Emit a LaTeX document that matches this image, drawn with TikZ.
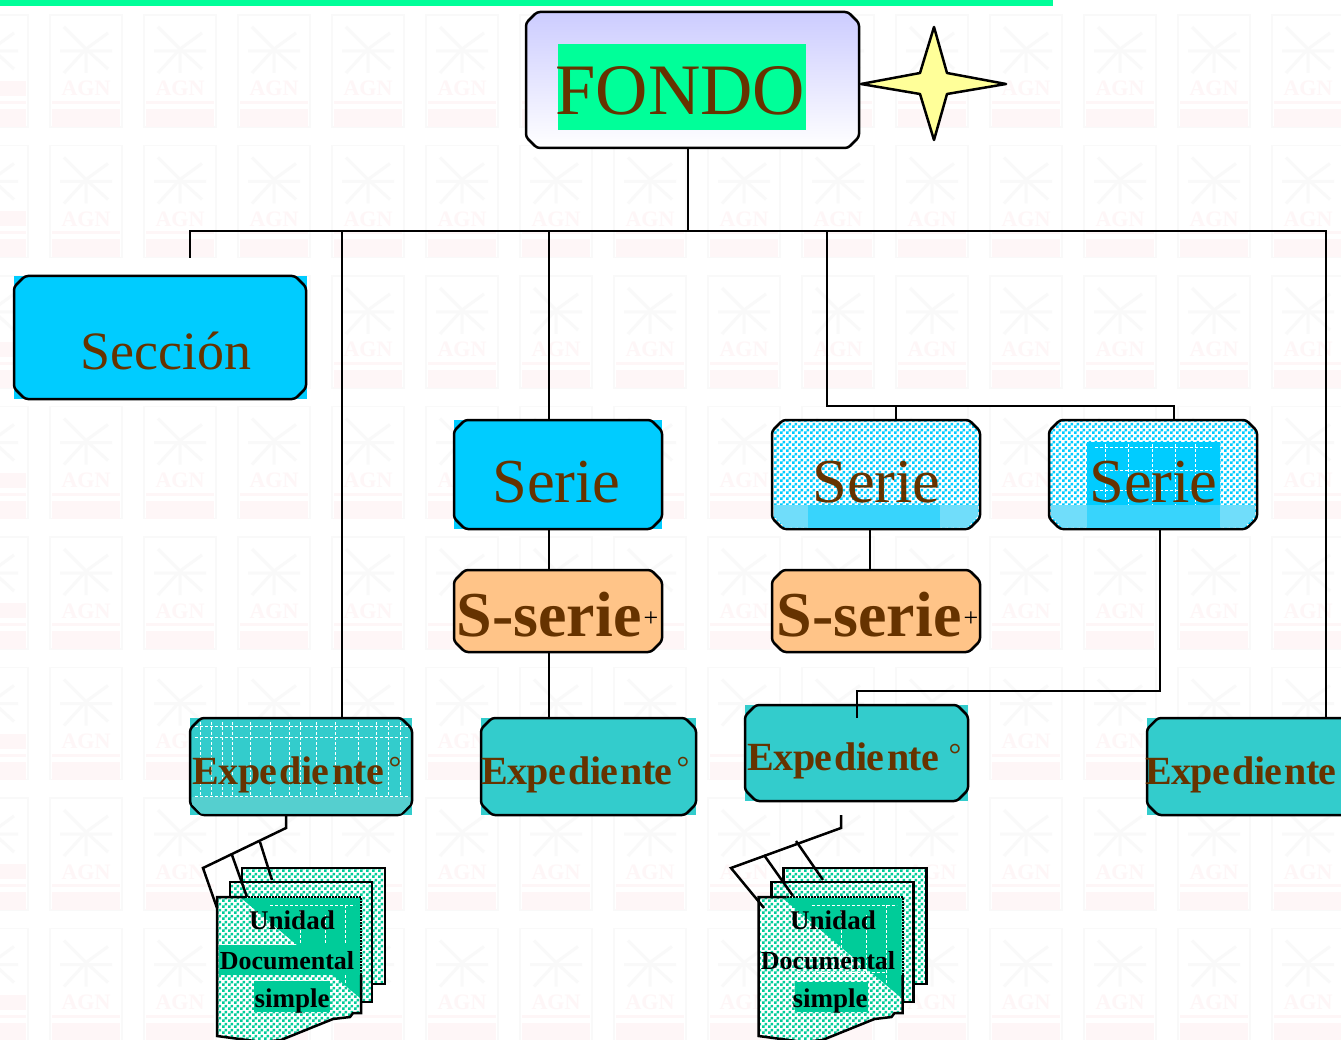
\documentclass[tikz,border=0pt]{standalone}
\usepackage{fontspec}
\setmainfont{Liberation Serif}
\usetikzlibrary{patterns,calc}
\definecolor{brownT}{HTML}{663300}
\definecolor{mintbar}{HTML}{00FF99}
\definecolor{skyB}{HTML}{00CCFF}
\definecolor{tealB}{HTML}{33CCCC}
\definecolor{orangeB}{HTML}{FFC488}
\definecolor{docG}{HTML}{00CC99}
\definecolor{wmgrey}{HTML}{F9F9F9}
\definecolor{wmpink}{HTML}{FEF6F7}
\definecolor{skyL}{HTML}{70DDFA}
\definecolor{skyM}{HTML}{38D4FC}
\definecolor{tealL}{HTML}{55CFCF}
\definecolor{lav}{HTML}{CCCCFF}
\definecolor{starY}{HTML}{FFFF99}
\pgfdeclarepatternformonly{chk}{\pgfqpoint{0pt}{0pt}}{\pgfqpoint{6pt}{6pt}}{\pgfqpoint{6pt}{6pt}}{%
  \pgfpathrectangle{\pgfqpoint{0pt}{0pt}}{\pgfqpoint{3pt}{3pt}}%
  \pgfpathrectangle{\pgfqpoint{3pt}{3pt}}{\pgfqpoint{3pt}{3pt}}%
  \pgfusepath{fill}}
\newcommand{\expword}{E\kern-0.7pt x\kern-0.7pt p\kern-0.7pt e\kern2.5pt d\kern-0.7pt i\kern-0.7pt e\kern2.5pt n\kern-0.7pt t\kern-0.7pt e}
\newcommand{\cbox}[2]{\path[cdraw,#2] ($(#1.north west)+(11,0)$) -- ($(#1.north east)+(-11,0)$) -- ($(#1.north east)+(0,11)$) -- ($(#1.south east)+(0,-11)$) -- ($(#1.south east)+(-11,0)$) -- ($(#1.south west)+(11,0)$) -- ($(#1.south west)+(0,-11)$) -- ($(#1.north west)+(0,11)$) -- cycle;}
\tikzset{
  x=1pt,y=-1pt,
  conn/.style={draw=black,line width=2.5pt,line join=miter},
  box/.style={rectangle,inner sep=0pt,outer sep=0pt},
  cdraw/.style={draw=black,line width=2.5pt,rounded corners=3pt},
  chkfill/.style={preaction={fill=white},pattern=chk,pattern color=#1},
  page/.style={draw=black,line width=2.5pt,preaction={fill=white},pattern=chk,pattern color=docG,rectangle,inner sep=0pt,outer sep=0pt,anchor=north west},
  lab/.style={anchor=base,inner sep=0pt,text=brownT},
  big/.style={lab,font=\fontsize{72.5}{72.5}\selectfont},
  secf/.style={lab,font=\fontsize{54}{54}\selectfont},
  serf/.style={lab,font=\fontsize{62.5}{62.5}\selectfont},
  ssf/.style={lab,font=\bfseries\fontsize{64}{64}\selectfont},
  expf/.style={lab,font=\bfseries\fontsize{40}{40}\selectfont},
  docf/.style={anchor=base,inner sep=0pt,text=black,font=\bfseries\fontsize{#1}{#1}\selectfont},
  degf/.style={lab,font=\fontsize{32}{32}\selectfont},
  plusf/.style={lab,text=black,font=\fontsize{26}{26}\selectfont},
  dashW/.style={white,line width=0.8pt,densely dashed},
}
\begin{document}
\begin{tikzpicture}
\clip (0,0) rectangle (1341,1040);
\fill[white] (0,0) rectangle (1341,1040);
% watermark tiles
\foreach \s in {5-0,6-0,7-0,8-0,9-0,0-2,1-2,2-2,5-3,6-3,8-3,9-3,11-3,12-3,4-4,5-4,6-4,8-4,9-4,2-5,3-5,5-5,6-5,7-5,8-5,9-5,12-5,13-5,2-6,3-6,8-6,2-7,3-7,8-7}{
  \expandafter\gdef\csname wmskip\s\endcsname{}
}
\foreach \c in {-1,...,13}{
 \foreach \r in {0,...,7}{
  \begin{scope}[shift={({50+94*\c},{15+130.5*\r})}]
   \draw[wmgrey,line width=1.5pt] (0,0) rectangle (72,112);
   \draw[wmgrey,line width=3pt] (36,34) -- (36,58) (14,12) -- (36,34) -- (58,18) (14,58) -- (36,34) -- (58,54) (10,36) -- (62,36);
   \ifnum\c<0
     \fill[wmpink] (-6,66) rectangle (70,81);
   \else
     \ifcsname wmskip\c-\r\endcsname\else
       \node[anchor=base,inner sep=0pt,text=wmpink,font=\bfseries\fontsize{22}{22}\selectfont] (wm\c-\r) at (36,81) {AGN};
     \fi
   \fi
   \fill[wmpink] (2,86) rectangle (70,89);
   \fill[wmpink] (2,94) rectangle (70,112);
  \end{scope}
 }
}
\fill[mintbar] (0,0) rectangle (1053,6);
% corner flashes behind the boxes
\fill[skyB] (14,276) rectangle (307,399);
\fill[skyB] (454,420) rectangle (662,529);
\fill[tealB] (190,718) rectangle (412,815);
\fill[tealB] (481,718) rectangle (696,815);
\fill[tealB] (745,705) rectangle (968,801);
\fill[tealB] (1147,718) rectangle (1370,815);
% boxes
\node[box,minimum width=333pt,minimum height=136pt] (fondo) at (692.5,80) {};
\node[box,minimum width=292pt,minimum height=123pt] (sec) at (160,337.5) {};
\node[box,minimum width=208pt,minimum height=109pt] (serA) at (558,474.5) {};
\node[box,minimum width=208pt,minimum height=109pt] (serB) at (876,474.5) {};
\node[box,minimum width=208pt,minimum height=109pt] (serC) at (1153,474.5) {};
\node[box,minimum width=208pt,minimum height=82pt] (ssA) at (558,611) {};
\node[box,minimum width=208pt,minimum height=82pt] (ssB) at (876,611) {};
\node[box,minimum width=222pt,minimum height=97pt] (expA) at (301,766.5) {};
\node[box,minimum width=215pt,minimum height=97pt] (expB) at (588.5,766.5) {};
\node[box,minimum width=223pt,minimum height=96pt] (expC) at (856.5,753) {};
\node[box,minimum width=223pt,minimum height=97pt] (expD) at (1258.5,766.5) {};
% box details that sit under the outlines
\cbox{fondo}{top color=lav,bottom color=white}
\cbox{sec}{fill=skyB}
\cbox{serA}{fill=skyB}
\cbox{serB}{chkfill=skyB}
\cbox{serC}{chkfill=skyB}
\cbox{ssA}{fill=orangeB}
\cbox{ssB}{fill=orangeB}
\cbox{expA}{fill=tealB}
\cbox{expB}{fill=tealB}
\cbox{expC}{fill=tealB}
\cbox{expD}{fill=tealB}
\fill[mintbar] (558,44) rectangle (806,130);
\fill[skyL] (774,505) -- (978,505) -- (978,516) -- (967,527.5) -- (785,527.5) -- (774,516) -- cycle;
\fill[skyL] (1051,505) -- (1255,505) -- (1255,516) -- (1244,527.5) -- (1062,527.5) -- (1051,516) -- cycle;
\fill[skyM] (808,505) rectangle (940,527.5);
\fill[skyB] (1087,442) rectangle (1220,505);
\fill[skyM] (1087,505) rectangle (1220,527.5);
\fill[tealL] (192,797) -- (410,797) -- (410,804) -- (401,813.5) -- (201,813.5) -- (192,804) -- cycle;
\draw[dashW] (195,726) -- (408,726) (195,737) -- (408,737) (195,796) -- (408,796);
\foreach \vx in {200,211,222,232,250,270,289,300,316,335,358,376,388,400}{
  \draw[dashW] (\vx,722) -- (\vx,796);
}
\draw[dashW] (1095,447) -- (1212,447) (1095,470) -- (1212,470) (1095,490) -- (1212,490);
\foreach \vx in {1105,1128,1152,1175,1195}{
  \draw[dashW] (\vx,444) -- (\vx,505);
}
% connectors
\coordinate (tr) at (688,231);
\coordinate (trL) at (190,231);
\coordinate (secEnd) at (190,258);
\coordinate (trR) at (1326,231);
\coordinate (trE) at (342,231);
\coordinate (trS) at (549,231);
\coordinate (trB) at (827,231);
\coordinate (brL) at (827,406);
\coordinate (brB) at (896,406);
\coordinate (brC) at (1174,406);
\coordinate (vSA) at (549,600);
\coordinate (vSB) at (870,600);
\coordinate (cStart) at (1160,529);
\coordinate (cMid) at (1160,691);
\coordinate (cMid2) at (857,691);
\coordinate (cEnd) at (857,718);
\draw[conn] (fondo.south -| tr) -- (tr);
\draw[conn] (secEnd) -- (trL) -- (trR) -- (expD.north -| trR);
\draw[conn] (trE) -- (expA.north -| trE);
\draw[conn] (trS) -- (serA.north -| trS);
\draw[conn] (trB) -- (brL) -- (brC) -- (serC.north -| brC);
\draw[conn] (brB) -- (serB.north -| brB);
\draw[conn] (serA.south -| vSA) -- (ssA.north -| vSA);
\draw[conn] (ssA.south -| vSA) -- (expB.north -| vSA);
\draw[conn] (serB.south -| vSB) -- (ssB.north -| vSB);
\draw[conn] (serC.south -| cStart) -- (cMid) -- (cMid2) -- (cEnd);
% document stacks
\foreach \nm/\dx in {A/0,B/541.5}{
 \begin{scope}[xshift=\dx pt]
  \node[page,minimum width=143pt,minimum height=116pt] (back\nm) at (242,868) {};
  \node[page,minimum width=142pt,minimum height=120pt] (mid\nm) at (230,882) {};
  \path[preaction={fill=white},pattern=chk,pattern color=docG]
    (217,897) -- (361,897) -- (361,1013) -- (353,1013) -- (350,1017) -- (333,1019) -- (281,1040) -- (262,1042) -- (217,1036) -- cycle;
  \fill[docG] (241,898) -- (360,898) -- (360,998) -- cycle;
  \draw[dashW] (255,972) -- (345,972) (300,910) -- (300,960) (325,915) -- (325,975) (345,905) -- (345,985) (270,905) -- (355,905);
  \draw[draw=black,line width=2.5pt,line join=miter]
    (361,975) -- (361,1013) -- (353,1013) -- (350,1017) -- (333,1019) -- (281,1040) -- (262,1042) -- (217,1036) -- (217,897) -- (245,897);
  \draw[draw=black,line width=2pt,densely dotted] (245,897) -- (361,897) -- (361,975);
 \end{scope}
}
\fill[docG] (219,945) rectangle (359,975);
\fill[docG] (254,981) rectangle (330,1012);
\fill[docG] (795,982) rectangle (868,1012);
% forks to document stacks
\coordinate (fA1) at (286,828);
\coordinate (fA2) at (203,868);
\coordinate (fA3) at (217,908);
\coordinate (fA4) at (232,855);
\coordinate (fA5) at (247,897);
\coordinate (fA6) at (260,842);
\coordinate (fA7) at (272,880);
\coordinate (fB0) at (841,815);
\coordinate (fB1) at (841,828);
\coordinate (fB2) at (731,868);
\coordinate (fB3) at (764,908);
\coordinate (fB4) at (764,855);
\coordinate (fB5) at (793,896);
\coordinate (fB6) at (796,841);
\coordinate (fB7) at (823,880);
\draw[conn] (expA.south -| fA1) -- (fA1) -- (fA2) -- (fA3);
\draw[conn] (fA4) -- (fA5);
\draw[conn] (fA6) -- (fA7);
\draw[conn] (fB0) -- (fB1) -- (fB2) -- (fB3);
\draw[conn] (fB4) -- (fB5);
\draw[conn] (fB6) -- (fB7);
% labels
\node[big] (tFondo) at (680.5,115) {FONDO};
\node[secf] (tSec) at (166,370) {Sección};
\node[serf] (tSerA) at (556.5,502) {Serie};
\node[serf] (tSerB) at (876.5,502) {Serie};
\node[serf] (tSerC) at (1153.5,502) {Serie};
\node[ssf] (tSsA) at (549,636) {S-serie};
\node[ssf] (tSsB) at (869,636) {S-serie};
\node[plusf] (pA) at (651,626) {+};
\node[plusf] (pB) at (971,626) {+};
\node[expf] (tExpA) at (288.5,784) {\expword};
\node[expf] (tExpB) at (577,784) {\expword};
\node[expf] (tExpC) at (843.5,770) {\expword};
\node[expf] (tExpD) at (1241,784) {\expword};
\node[degf] (dA) at (395,778) {°};
\node[degf] (dB) at (683,778) {°};
\node[degf] (dC) at (955,765) {°};
\node[docf=27] (uA) at (292,929) {Unidad};
\node[docf=26] (oA) at (287,969) {Documental};
\node[docf=27] (sA) at (292,1007) {simple};
\node[docf=27] (uB) at (833,929) {Unidad};
\node[docf=26] (oB) at (828,969) {Documental};
\node[docf=27] (sB) at (830,1007) {simple};
% star
\draw[line width=2.5pt,fill=starY,draw=black,line join=round]
  (861,84) -- (920,73) -- (934,27) -- (947,73) -- (1006,84) -- (947,94) -- (934,140) -- (920,94) -- cycle;
\end{tikzpicture}
\end{document}
